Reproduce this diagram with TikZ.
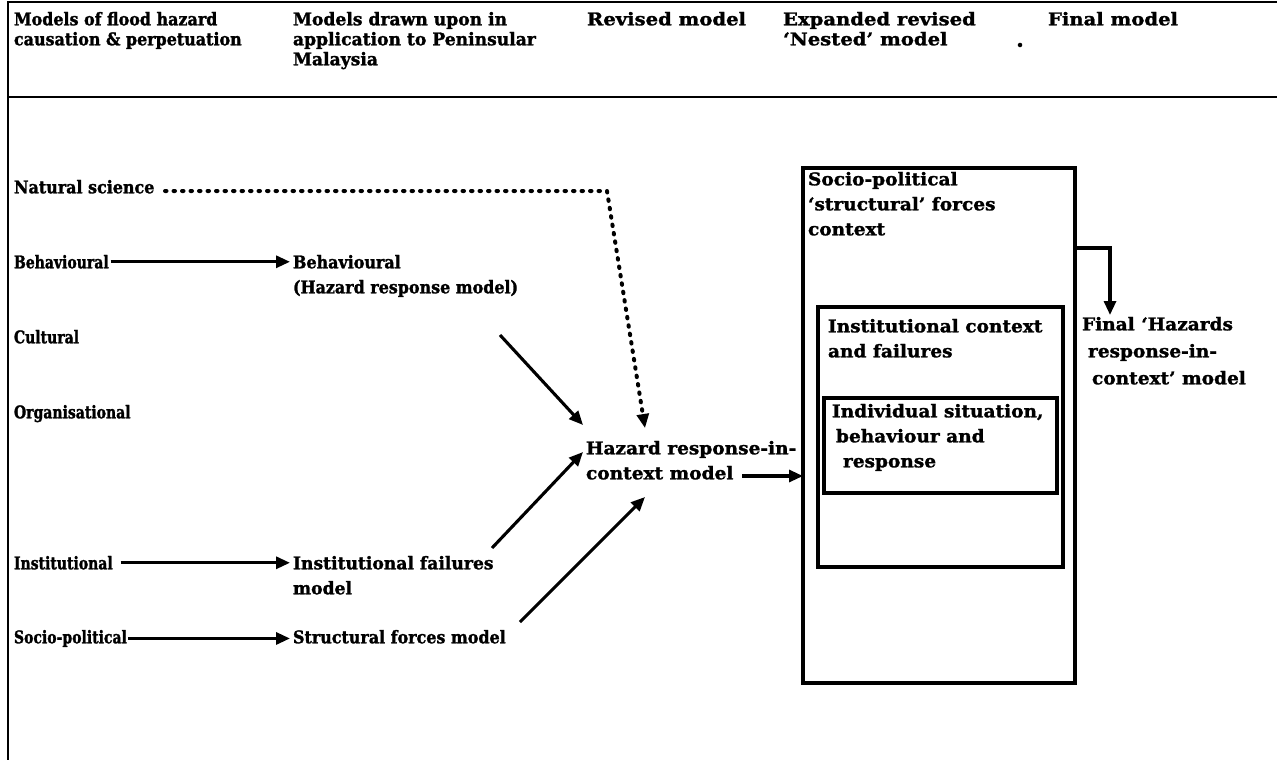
\documentclass[tikz,border=0pt]{standalone}
\usepackage{fontspec}
\setmainfont{DejaVu Serif}[Ligatures=TeX,BoldFeatures={FakeBold=1.5}]
% one face, set at several horizontal widths
\newfontfamily\fnA{DejaVu Serif}[Ligatures=TeX,FakeStretch=0.80,BoldFeatures={FakeBold=1.5}]
\newfontfamily\fnB{DejaVu Serif}[Ligatures=TeX,FakeStretch=0.91,BoldFeatures={FakeBold=1.5}]
\newfontfamily\fnC{DejaVu Serif}[Ligatures=TeX,FakeStretch=0.98,BoldFeatures={FakeBold=1.5}]
\newfontfamily\fnD{DejaVu Serif}[Ligatures=TeX,FakeStretch=1.06,BoldFeatures={FakeBold=1.5}]
\newfontfamily\fnE{DejaVu Serif}[Ligatures=TeX,FakeStretch=1.12,BoldFeatures={FakeBold=1.5}]
\usetikzlibrary{arrows.meta,calc}
\begin{document}
\begin{tikzpicture}[x=1pt,y=-1pt,
  every node/.style={inner sep=0pt, outer sep=0pt},
  hdr/.style={anchor=north west, align=left, font=#1\bfseries\fontsize{17.5}{20}\selectfont},
  hdr/.default=\fnC,
  lbl/.style={anchor=north west, align=left, font=#1\bfseries\fontsize{17.5}{25}\selectfont},
  lbl/.default=\fnC,
  rule/.style={line width=2pt},
  frame/.style={draw, line width=3.3pt, anchor=north west},
  arr/.style={line width=3.1pt, -{Triangle[length=14pt,width=12pt]}},
  dots/.style={line width=4pt, line cap=round, dash pattern=on 1.5pt off 7pt},
  speck/.style={circle, fill, inner sep=1.6pt}
]
\useasboundingbox (0,0) rectangle (1277,760);

% table frame
\coordinate (tl) at (8,2);
\coordinate (tr) at (1277,2);
\coordinate (bl) at (8,760);
\coordinate (sl) at (8,97);
\coordinate (sr) at (1277,97);
\draw[rule] (tr) -- (tl) -- (bl);
\draw[rule] (sl) -- (sr);

% column headings
\node[hdr=\fnB] (h1) at (14,12) {Models of flood hazard\\causation \& perpetuation};
\node[hdr=\fnC] (h2) at (293,12) {Models drawn upon in\\application to Peninsular\\Malaysia};
\node[hdr=\fnE] (h3) at (587,12) {Revised model};
\node[hdr=\fnE] (h4) at (783,12) {Expanded revised\\‘Nested’ model};
\node[hdr=\fnE] (h5) at (1048,12) {Final model};
\node[speck] (sp) at (1020,45) {};

% first column
\node[lbl=\fnB] (ns)  at (14,180) {Natural science};
\node[lbl=\fnA] (beh) at (14,255) {Behavioural};
\node[lbl=\fnA] (cul) at (14,330) {Cultural};
\node[lbl=\fnA] (org) at (14,405) {Organisational};
\node[lbl=\fnA] (ins) at (14,556) {Institutional};
\node[lbl=\fnA] (soc) at (14,630) {Socio-political};

% second column
\node[lbl=\fnB] (mbeh) at (293,255) {Behavioural\\(Hazard response model)};
\node[lbl=\fnC] (mins) at (293,556) {Institutional failures\\model};
\node[lbl=\fnB] (msoc) at (293,630) {Structural forces model};

% revised model
\node[lbl=\fnD] (hz) at (586,441) {Hazard response-in-\\context model};

% nested model
\node[frame, minimum width=272, minimum height=515] (outer) at (803,168) {};
\node[frame, minimum width=245, minimum height=260] (mid) at (818,307) {};
\node[frame, minimum width=233, minimum height=95] (inner) at (824,398) {};
\node[lbl=\fnD] (outert) at (808,172) {Socio-political\\‘structural’ forces\\context};
\node[lbl=\fnD] (midt) at (828,319) {Institutional context\\and failures};
\node[lbl=\fnD] (innert) at (832,404) {Individual situation,\\\hspace*{4pt}behaviour and\\\hspace*{11pt}response};

% final model
\node[anchor=north west, align=left, font=\fnD\bfseries\fontsize{17.5}{27}\selectfont] (fin) at (1082,317)
  {Final ‘Hazards\\\hspace*{6pt}response-in-\\\hspace*{10pt}context’ model};

% horizontal links
\draw[arr, shorten <=2pt, shorten >=3pt] (beh.east) -- (beh.east -| mbeh.west);
\draw[arr, shorten <=8pt, shorten >=3pt] (ins.east) -- (ins.east -| mins.west);
\draw[arr, shorten <=1pt, shorten >=3pt] (soc.east) -- (soc.east -| msoc.west);

% links into the revised model
\coordinate (a1s) at (500,335);
\coordinate (a1e) at (583,425);
\coordinate (a2s) at (492,548);
\coordinate (a2e) at (583,452);
\coordinate (a3s) at (520,622);
\coordinate (a3e) at (645,497);
\draw[arr] (a1s) -- (a1e);
\draw[arr] (a2s) -- (a2e);
\draw[arr] (a3s) -- (a3e);

% natural science (dotted)
\coordinate (ds) at (165,191);
\coordinate (dk) at (607,191);
\coordinate (de) at (645,428);
\draw[dots] (ds) -- (dk) -- ($(de)!12pt!(dk)$);
\draw[arr] ($(de)!13pt!(dk)$) -- (de);

% revised -> nested -> final
\coordinate (hzo) at (742,476);
\draw[arr] (hzo) -- (hzo -| outer.west);
\coordinate (ob) at (1075,248);
\coordinate (fe) at (1110,315);
\draw[arr] (ob) -| (fe);
\end{tikzpicture}
\end{document}
